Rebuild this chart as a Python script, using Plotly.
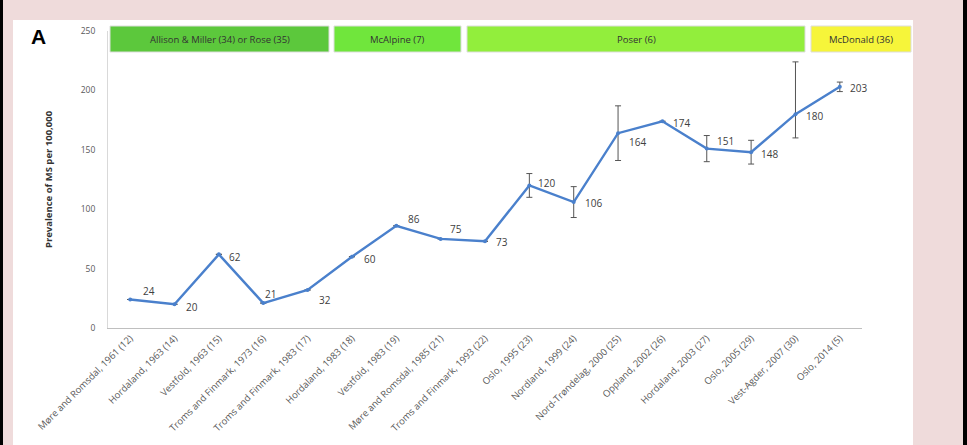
import plotly.graph_objects as go

# Survey sites (county, year, reference) in chronological order
categories = [
    "Møre and Romsdal, 1961 (12)", "Hordaland, 1963 (14)", "Vestfold, 1963 (15)",
    "Troms and Finmark, 1973 (16)", "Troms and Finmark, 1983 (17)", "Hordaland, 1983 (18)",
    "Vestfold, 1983 (19)", "Møre and Romsdal, 1985 (21)", "Troms and Finmark, 1993 (22)",
    "Oslo, 1995 (23)", "Nordland, 1999 (24)", "Nord-Trøndelag, 2000 (25)",
    "Oppland, 2002 (26)", "Hordaland, 2003 (27)", "Oslo, 2005 (29)",
    "Vest-Agder, 2007 (30)", "Oslo, 2014 (5)",
]
# Prevalence of MS per 100,000
prevalence = [24, 20, 62, 21, 32, 60, 86, 75, 73, 120, 106, 164, 174, 151, 148, 180, 203]
# Confidence interval half-widths (upper / lower)
ci_upper = [0, 0, 0, 0, 0, 0, 0, 0, 0, 10, 13, 23, 0, 11, 10, 44, 4]
ci_lower = [0, 0, 0, 0, 0, 0, 0, 0, 0, 10, 13, 23, 0, 11, 10, 20, 4]

# Diagnostic criteria periods shown above the plot
criteria = ["Allison & Miller (34) or Rose (35)", "McAlpine (7)", "Poser (6)", "McDonald (36)"]
criteria_colors = ["#5cc83c", "#70e63c", "#92ee3c", "#f6f53a"]
# band extents in pixels (left, right)
criteria_px = [(110, 329), (334, 461), (467, 805), (811, 911)]

# label offsets in pixels
label_dx = [11, 9, 8, 0, 9, 10, 10, 7, 9, 7, 9, 9, 9, 8, 8, 9, 8]
label_dy = [8, -3, -3, 9, -10, -2, 7, 10, -1, 2, -1, -9, -2, 8, -2, -2, -1]

W, H = 967, 445
L, R, T, B = 108, 105, 31, 117
PW, PH = W - L - R, H - T - B
FONT = "Open Sans, Liberation Sans, Arial"


def px_x(p):
    return (p - L) / PW


def px_y(p):
    return (H - B - p) / PH


fig = go.Figure()
fig.add_trace(go.Scatter(
    x=categories, y=prevalence, mode="lines+markers",
    line=dict(color="#4a80cc", width=2.4),
    marker=dict(color="#4a80cc", size=4),
    error_y=dict(type="data", array=ci_upper, arrayminus=ci_lower, symmetric=False,
                 color="#555555", thickness=1, width=3),
    showlegend=False, hoverinfo="x+y",
))

annotations = []
for cat, v, dx, dy in zip(categories, prevalence, label_dx, label_dy):
    annotations.append(dict(x=cat, y=v, xref="x", yref="y", text=str(v), showarrow=False,
                            xanchor="left", yanchor="middle", xshift=dx, yshift=dy,
                            font=dict(size=10, color="#404040", family=FONT)))

shapes = [
    # outer frame strips and white panel
    dict(type="rect", xref="paper", yref="paper", x0=px_x(0), x1=px_x(3), y0=px_y(445), y1=px_y(0),
         fillcolor="#000000", line_width=0, layer="below"),
    dict(type="rect", xref="paper", yref="paper", x0=px_x(963), x1=px_x(967), y0=px_y(445), y1=px_y(0),
         fillcolor="#000000", line_width=0, layer="below"),
    dict(type="rect", xref="paper", yref="paper", x0=px_x(13), x1=px_x(913), y0=px_y(445), y1=px_y(20),
         fillcolor="#ffffff", line_width=0, layer="below"),
]
for name, col, (a, b) in zip(criteria, criteria_colors, criteria_px):
    shapes.append(dict(type="rect", xref="paper", yref="paper", x0=px_x(a), x1=px_x(b),
                       y0=px_y(52), y1=px_y(26), fillcolor=col, line=dict(color="#dddddd", width=1),
                       layer="above"))
    annotations.append(dict(x=(px_x(a) + px_x(b)) / 2, y=px_y(39), xref="paper", yref="paper",
                            text=name, showarrow=False, xanchor="center", yanchor="middle",
                            font=dict(size=9.5, color="#333333", family=FONT)))

annotations.append(dict(x=px_x(29), y=px_y(36), xref="paper", yref="paper", text="<b>A</b>",
                        showarrow=False, xanchor="left", yanchor="middle",
                        font=dict(size=21, color="#000000", family="Liberation Sans, Arial")))

fig.update_layout(
    width=W, height=H,
    margin=dict(l=L, r=R, t=T, b=B),
    paper_bgcolor="#efdbdb", plot_bgcolor="#ffffff",
    shapes=shapes, annotations=annotations,
    xaxis=dict(showgrid=False, showline=True, linecolor="#bfbfbf", linewidth=1,
               ticks="", tickangle=-45, tickfont=dict(size=9.5, color="#595959", family=FONT),
               range=[-0.5, 16.5], fixedrange=True),
    yaxis=dict(showgrid=False, showline=True, linecolor="#d9d9d9", linewidth=1,
               range=[0, 250], tickvals=[0, 50, 100, 150, 200, 250], ticks="",
               tickfont=dict(size=8.5, color="#595959", family=FONT),
               ticklabelstandoff=10, zeroline=False,
               title=dict(text="<b>Prevalence of MS per 100,000</b>", standoff=26,
                          font=dict(size=9.5, color="#333333", family=FONT))),
    font=dict(family=FONT),
)

fig.write_html("out.html")
